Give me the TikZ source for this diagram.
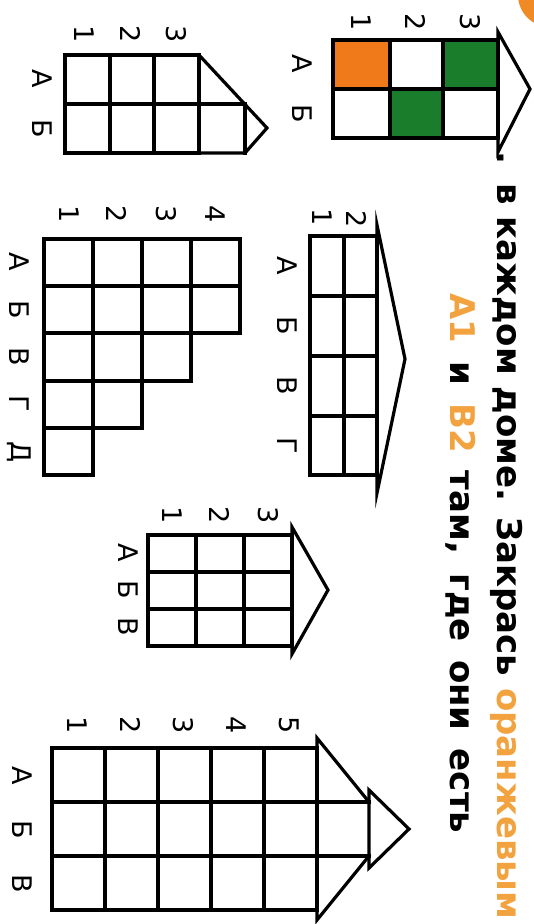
\documentclass[tikz,border=0pt]{standalone}
\usepackage{fontspec}
\setmainfont{DejaVu Sans}
\definecolor{cellorange}{HTML}{F07A1A}
\definecolor{cellgreen}{HTML}{1A7D2C}
\definecolor{textorange}{HTML}{F2A33F}
\definecolor{badge}{HTML}{F08A24}
\begin{document}
\begin{tikzpicture}[x=1pt,y=-1pt,
  grid/.style={line width=3.2pt, line join=miter, line cap=rect},
  lbl/.style={rotate=-90, font=\fontsize{27}{27}\selectfont, inner sep=0pt, anchor=center},
  head/.style={rotate=-90, anchor=base west, font=\fontsize{34}{34}\selectfont\bfseries, inner sep=0pt}]
\useasboundingbox (0,0) rectangle (534,924);
\fill[white] (0,0) rectangle (534,924);
\begin{scope}
\clip (0,0) rectangle (534,924);
\fill[badge] (550,-5) circle (32);
\end{scope}
% ---------- house 1 (coloured example)
\fill[cellorange] (333,40) rectangle (390,89);
\fill[cellgreen] (443,40) rectangle (498,89);
\fill[cellgreen] (390,89) rectangle (443,138);
\draw[grid] (333,40) rectangle (498,138);
\draw[grid] (390,40)--(390,138) (443,40)--(443,138) (333,89)--(498,89);
\draw[grid] (498,152)--(498,32)--(530,89)--cycle;
\node[lbl] (h1n1) at (361,22) {1};
\node[lbl] (h1n2) at (416,22) {2};
\node[lbl] (h1n3) at (470,22) {3};
\node[lbl] (h1a) at (302,64) {А};
\node[lbl] (h1b) at (302,114) {Б};
% ---------- house 2
\draw[grid] (65,55) rectangle (199,153);
\draw[grid] (110,55)--(110,153) (154,55)--(154,153) (65,104)--(245,104);
\draw[grid] (199,55)--(267,128)--(245,153)--(199,153);
\draw[grid] (245,104)--(245,153);
\node[lbl] (h2n1) at (84,34) {1};
\node[lbl] (h2n2) at (131,34) {2};
\node[lbl] (h2n3) at (176,34) {3};
\node[lbl] (h2a) at (42,79) {А};
\node[lbl] (h2b) at (42,129) {Б};
% ---------- house 3
\draw[grid] (310,236) rectangle (377,475);
\draw[grid] (344,236)--(344,475);
\draw[grid] (310,296)--(377,296) (310,356)--(377,356) (310,416)--(377,416);
\draw[grid] (377,225)--(405,359)--(377,493)--cycle;
\node[lbl] (h3n1) at (322,217) {1};
\node[lbl] (h3n2) at (357,219) {2};
\node[lbl] (h3a) at (287,266) {А};
\node[lbl] (h3b) at (287,326) {Б};
\node[lbl] (h3v) at (287,386) {В};
\node[lbl] (h3g) at (287,446) {Г};
% ---------- house 4 (staircase)
\draw[grid] (44,239)--(240,239)--(240,333)--(191,333)--(191,381)--(142,381)--(142,428)--(93,428)--(93,475)--(44,475)--cycle;
\draw[grid] (93,239)--(93,428) (142,239)--(142,381) (191,239)--(191,333)
  (44,286)--(240,286) (44,333)--(191,333) (44,381)--(142,381) (44,428)--(93,428);
\node[lbl] (h4n1) at (69,214) {1};
\node[lbl] (h4n2) at (117,214) {2};
\node[lbl] (h4n3) at (166,214) {3};
\node[lbl] (h4n4) at (215,214) {4};
\node[lbl] (h4a) at (19,262) {А};
\node[lbl] (h4b) at (19,310) {Б};
\node[lbl] (h4v) at (19,357) {В};
\node[lbl] (h4g) at (19,404) {Г};
\node[lbl] (h4d) at (19,452) {Д};
% ---------- house 5
\draw[grid] (148,535) rectangle (292,646);
\draw[grid] (196,535)--(196,646) (244,535)--(244,646) (148,572)--(292,572) (148,609)--(292,609);
\draw[grid] (292,527)--(328,590)--(292,654)--cycle;
\node[lbl] (h5n1) at (172,515) {1};
\node[lbl] (h5n2) at (220,515) {2};
\node[lbl] (h5n3) at (268,515) {3};
\node[lbl] (h5a) at (128,553) {А};
\node[lbl] (h5b) at (128,590) {Б};
\node[lbl] (h5v) at (128,627) {В};
% ---------- house 6
\draw[grid] (52,748) rectangle (317,910);
\draw[grid] (105,748)--(105,910) (158,748)--(158,910) (211,748)--(211,910) (264,748)--(264,910);
\draw[grid] (52,802)--(369,802) (52,856)--(369,856);
\draw[grid] (369,802)--(317,738)--(317,920)--(369,856);
\draw[grid] (369,790)--(409,829)--(369,868)--cycle;
\node[lbl] (h6n1) at (77,725) {1};
\node[lbl] (h6n2) at (131,725) {2};
\node[lbl] (h6n3) at (183,725) {3};
\node[lbl] (h6n4) at (236,725) {4};
\node[lbl] (h6n5) at (289,725) {5};
\node[lbl] (h6a) at (22,776) {А};
\node[lbl] (h6b) at (22,830) {Б};
\node[lbl] (h6v) at (22,884) {В};
% ---------- heading
\node[head] (t0) at (497,151) {.};
\node[head] (t1) at (497,183) {\makebox[736pt][s]{в каждом доме. Закрась \textcolor{textorange}{оранжевым}}};
\node[head] (t2) at (450,293) {\makebox[540pt][s]{\textcolor{textorange}{А1} и \textcolor{textorange}{В2} там, где они есть}};
\end{tikzpicture}
\end{document}
